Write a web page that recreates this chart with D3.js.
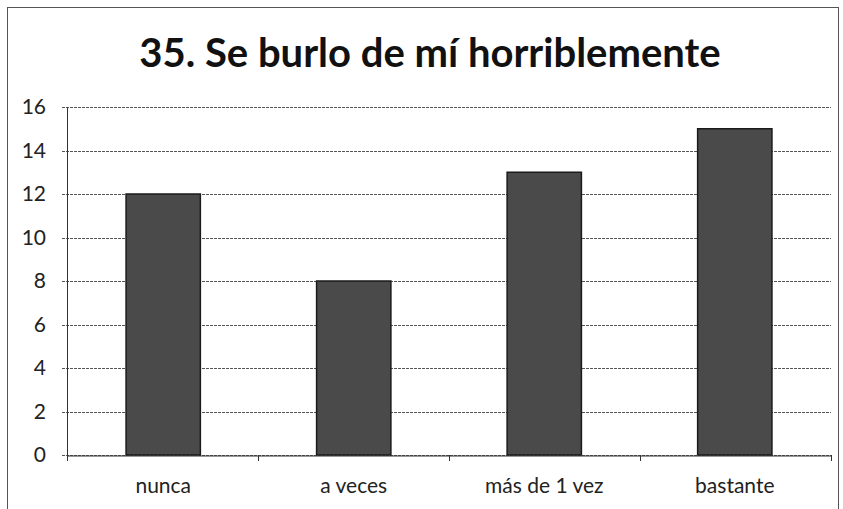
<!DOCTYPE html>
<html>
<head>
<meta charset="utf-8">
<script src="https://cdn.jsdelivr.net/npm/d3@7"></script>
<style>
  body { margin: 0; background: #fff; }
  text { font-family: Lato, "Open Sans", sans-serif; }
</style>
</head>
<body>
<div id="container"></div>
<script>
let w = 843;
let h = 509;

// chart data
let titleText = "35. Se burlo de mí horriblemente";
let categories = ["nunca", "a veces", "más de 1 vez", "bastante"];
let values = [12, 8, 13, 15];
let yTicks = [0, 2, 4, 6, 8, 10, 12, 14, 16];

let viz = d3.select("#container")
  .append("svg")
    .attr("width", w)
    .attr("height", h)
    .style("background-color", "#fff");

// outer frame
viz.append("rect")
  .attr("x", 7.5).attr("y", 7.5)
  .attr("width", 831).attr("height", 510)
  .attr("fill", "none")
  .attr("stroke", "#555")
  .attr("stroke-width", 1);

viz.append("text")
  .attr("x", 430)
  .attr("y", 67)
  .attr("text-anchor", "middle")
  .attr("font-size", 40)
  .attr("font-weight", "bold")
  .attr("fill", "#111")
  .text(titleText);

// plot area bounds
let plotLeft = 67, plotRight = 831, plotTop = 107, plotBottom = 455;

let xScale = d3.scaleBand().domain(categories).range([plotLeft, plotRight]).paddingInner(0.61).paddingOuter(0.31);
let yScale = d3.scaleLinear().domain([0, 16]).range([plotBottom, plotTop]);

// gridlines
viz.append("g")
  .selectAll("line")
  .data(yTicks)
  .enter()
  .append("line")
    .attr("x1", plotLeft - 5)
    .attr("x2", plotRight)
    .attr("y1", function(d){ return Math.round(yScale(d)) + 0.5; })
    .attr("y2", function(d){ return Math.round(yScale(d)) + 0.5; })
    .attr("stroke", "#555")
    .attr("stroke-width", 1)
    .attr("stroke-dasharray", "3,1");

// y axis labels
let yAxis = d3.axisLeft(yScale).tickValues(yTicks).tickSize(0).tickPadding(21);
let yAxisGroup = viz.append("g").attr("class", "yaxis")
  .attr("transform", "translate(" + plotLeft + ",0)")
  .call(yAxis);
yAxisGroup.select(".domain").attr("stroke", "#333");
yAxisGroup.selectAll("text").attr("font-size", 21).attr("fill", "#222")
  .style("font-family", "Lato, sans-serif");

// bars
viz.append("g")
  .selectAll("rect")
  .data(values)
  .enter()
  .append("rect")
    .attr("x", function(d, i){ return xScale(categories[i]); })
    .attr("y", function(d){ return yScale(d); })
    .attr("width", xScale.bandwidth())
    .attr("height", function(d){ return plotBottom - yScale(d); })
    .attr("fill", "#4a4a4a")
    .attr("stroke", "#1a1a1a")
    .attr("stroke-width", 1.5);

// x axis
let step = (plotRight - plotLeft) / categories.length;
let xAxis = d3.axisBottom(xScale).tickSize(0).tickPadding(23);
let xAxisGroup = viz.append("g").attr("class", "xaxis")
  .attr("transform", "translate(0," + (plotBottom + 0.5) + ")")
  .call(xAxis);
xAxisGroup.select(".domain").attr("stroke", "#333");
xAxisGroup.selectAll("text").attr("font-size", 21).attr("fill", "#222")
  .style("font-family", "Lato, sans-serif");

// category separator ticks
viz.append("g")
  .selectAll("line")
  .data(d3.range(categories.length + 1))
  .enter()
  .append("line")
    .attr("x1", function(i){ return Math.round(plotLeft + i * step) + 0.5; })
    .attr("x2", function(i){ return Math.round(plotLeft + i * step) + 0.5; })
    .attr("y1", plotBottom)
    .attr("y2", plotBottom + 6)
    .attr("stroke", "#333");
</script>
</body>
</html>
